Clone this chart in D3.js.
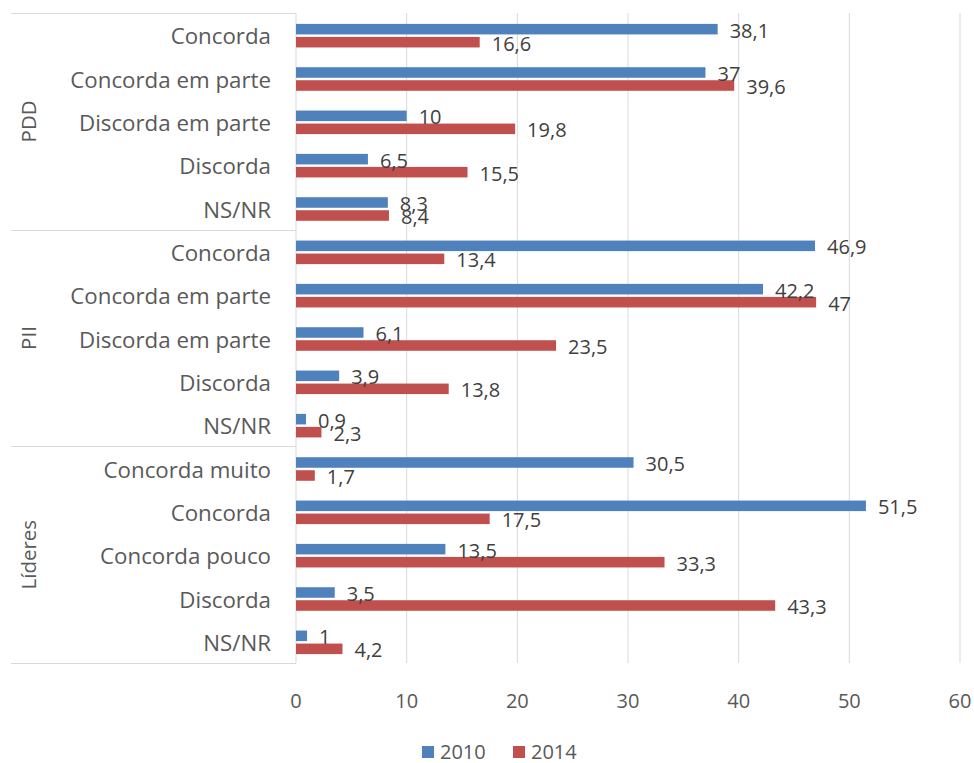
<!DOCTYPE html>
<html>
<head>
<meta charset="utf-8">
<script src="https://cdn.jsdelivr.net/npm/d3@7"></script>
<style>
  html, body { margin: 0; padding: 0; background: #fff; }
  svg { display: block; font-family: "Open Sans", sans-serif; }
</style>
</head>
<body>
<svg id="chart" width="974" height="763"></svg>
<script>
const groupNames = ["PDD", "PII", "Líderes"];
const categoryLabels = [
  "Concorda", "Concorda em parte", "Discorda em parte", "Discorda", "NS/NR",
  "Concorda", "Concorda em parte", "Discorda em parte", "Discorda", "NS/NR",
  "Concorda muito", "Concorda", "Concorda pouco", "Discorda", "NS/NR"
];
const categoryGroups = [
  "PDD", "PDD", "PDD", "PDD", "PDD",
  "PII", "PII", "PII", "PII", "PII",
  "Líderes", "Líderes", "Líderes", "Líderes", "Líderes"
];
const seriesNames = ["2010", "2014"];
const values2010 = [38.1, 37, 10, 6.5, 8.3, 46.9, 42.2, 6.1, 3.9, 0.9, 30.5, 51.5, 13.5, 3.5, 1];
const values2014 = [16.6, 39.6, 19.8, 15.5, 8.4, 13.4, 47, 23.5, 13.8, 2.3, 1.7, 17.5, 33.3, 43.3, 4.2];
const xTicks = [0, 10, 20, 30, 40, 50, 60];

const colors = { "2010": "#4f81bd", "2014": "#c0504d" };
const seriesValues = { "2010": values2010, "2014": values2014 };

const svg = d3.select("#chart");
const plotLeft = 296, plotRight = 960, plotTop = 13, plotBottom = 663;

const x = d3.scaleLinear().domain([0, 60]).range([plotLeft, plotRight]);
const idx = d3.range(categoryLabels.length);
const y = d3.scaleBand().domain(idx).range([plotTop + 1, plotBottom + 1]).paddingInner(0).paddingOuter(0);
const ySeries = d3.scaleBand().domain(seriesNames).range([0, y.bandwidth()])
  .paddingInner(0.19).paddingOuter(0.76);

const fmt = v => String(v).replace(".", ",");

// gridlines
svg.append("g").selectAll("line").data(xTicks.slice(1)).join("line")
  .attr("x1", d => x(d)).attr("x2", d => x(d))
  .attr("y1", plotTop).attr("y2", plotBottom)
  .attr("stroke", "#d9d9d9").attr("stroke-width", 1);

// category axis line
svg.append("line").attr("x1", plotLeft).attr("x2", plotLeft).attr("y1", plotTop).attr("y2", plotBottom)
  .attr("stroke", "#d9d9d9").attr("stroke-width", 1);

// group separators
const groupBounds = [];
groupNames.forEach(g => {
  const ids = idx.filter(i => categoryGroups[i] === g);
  const y0 = y(ids[0]) - 1, y1 = y(ids[ids.length - 1]) + y.bandwidth() - 1;
  groupBounds.push({ g, y0, y1 });
});
const sepYs = [plotTop].concat(groupBounds.map(b => b.y1));
svg.append("g").selectAll("line").data(sepYs).join("line")
  .attr("x1", 11).attr("x2", plotLeft).attr("y1", d => Math.round(d) + 0.5).attr("y2", d => Math.round(d) + 0.5)
  .attr("stroke", "#d9d9d9").attr("stroke-width", 1);

// group labels
svg.append("g").selectAll("text").data(groupBounds).join("text")
  .attr("transform", d => `translate(28,${(d.y0 + d.y1) / 2}) rotate(-90)`)
  .attr("text-anchor", "middle").attr("dominant-baseline", "central")
  .attr("font-size", 20.5).attr("fill", "#595959")
  .text(d => d.g);

// category labels
svg.append("g").selectAll("text").data(idx).join("text")
  .attr("x", 271).attr("y", i => y(i) + y.bandwidth() / 2)
  .attr("text-anchor", "end").attr("dominant-baseline", "central")
  .attr("font-size", 22.3).attr("fill", "#595959")
  .text(i => categoryLabels[i]);

// bars
const barData = [];
idx.forEach(i => seriesNames.forEach(s => barData.push({ i, s, v: seriesValues[s][i] })));
svg.append("g").selectAll("rect").data(barData).join("rect")
  .attr("x", x(0))
  .attr("y", d => y(d.i) + ySeries(d.s))
  .attr("width", d => x(d.v) - x(0))
  .attr("height", ySeries.bandwidth())
  .attr("fill", d => colors[d.s]);

// data labels
svg.append("g").selectAll("text").data(barData).join("text")
  .attr("x", d => x(d.v) + 12)
  .attr("y", d => y(d.i) + ySeries(d.s) + ySeries.bandwidth() / 2 + 1)
  .attr("dominant-baseline", "central")
  .attr("font-size", 20).attr("fill", "#404040")
  .text(d => fmt(d.v));

// x tick labels
svg.append("g").selectAll("text").data(xTicks).join("text")
  .attr("x", d => x(d)).attr("y", 700)
  .attr("text-anchor", "middle").attr("dominant-baseline", "central")
  .attr("font-size", 20).attr("fill", "#595959")
  .text(d => d);

// legend
const legendPos = [{ s: "2010", x: 422 }, { s: "2014", x: 513 }];
const lg = svg.append("g").selectAll("g").data(legendPos).join("g");
lg.append("rect").attr("x", d => d.x).attr("y", 746).attr("width", 12).attr("height", 12)
  .attr("fill", d => colors[d.s]);
lg.append("text").attr("x", d => d.x + 18).attr("y", 751)
  .attr("dominant-baseline", "central").attr("font-size", 20).attr("fill", "#595959")
  .text(d => d.s);
</script>
</body>
</html>
